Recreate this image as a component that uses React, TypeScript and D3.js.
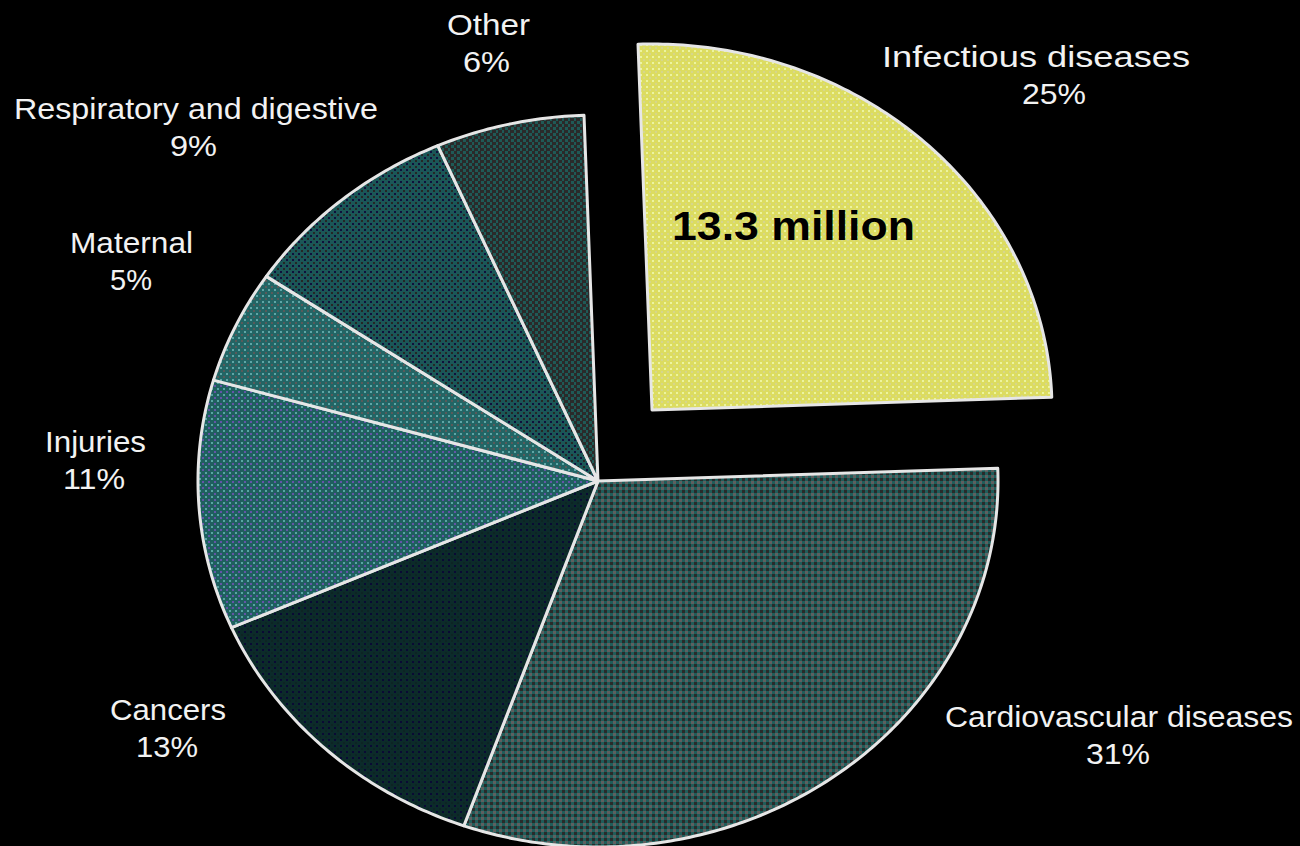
import React from "react";
import * as d3 from "d3";

const categories = [
  "Infectious diseases",
  "Cardiovascular diseases",
  "Cancers",
  "Injuries",
  "Maternal",
  "Respiratory and digestive",
  "Other",
];
const values = [25, 31, 13, 11, 5, 9, 6];
const percentLabels = ["25%", "31%", "13%", "11%", "5%", "9%", "6%"];
const explodedLabel = "13.3 million";

const W = 1300;
const H = 846;

// layout (not data)
const CX = 598;
const CY = 481;
const RX = 400;
const RY = 366;
const EXPLODE = [54, -71];
const START = -0.035;

const labelLayout: { x: number; y: number; w: number; pw: number; px: number }[] = [
  { x: 882, y: 67, w: 308, px: 1022, pw: 64 },
  { x: 945, y: 727, w: 348, px: 1086, pw: 64 },
  { x: 110, y: 720, w: 116, px: 136, pw: 62 },
  { x: 45, y: 452, w: 101, px: 63, pw: 62 },
  { x: 70, y: 253, w: 123, px: 110, pw: 42 },
  { x: 14, y: 119, w: 364, px: 170, pw: 47 },
  { x: 447, y: 35, w: 83, px: 463, pw: 47 },
];

// pattern colours: base, spot1, spot2
const patternColors = [
  ["#dcdc60", "#ecf4a0", "#d6d68c"],
  ["#1f5d5a", "#5f5f5f", "#2a2a2a"],
  ["#0c2b2a", "#0a0a34", "#0e2424"],
  ["#1f5f5f", "#6454a8", "#58a4a4"],
  ["#236565", "#5ea6a6", "#5a5a5a"],
  ["#1b5757", "#10103c", "#262626"],
  ["#2a2a2a", "#1f5a56", "#2a2a2a"],
];

export default function App() {
  const pie = d3
    .pie<number>()
    .sort(null)
    .startAngle(START)
    .endAngle(2 * Math.PI + START);
  const arcs = pie(values);

  const slicePath = (a0: number, a1: number) => {
    const n = Math.max(8, Math.ceil((a1 - a0) * 80));
    const pts: [number, number][] = [[0, 0]];
    d3.range(n + 1).forEach((i) => {
      const a = a0 + ((a1 - a0) * i) / n;
      pts.push([RX * Math.sin(a), -RY * Math.cos(a)]);
    });
    return d3.line()(pts) + "Z";
  };

  return (
    <svg
      width={W}
      height={H}
      style={{ position: "absolute", left: 0, top: 0, display: "block", background: "#000" }}
    >
      <defs>
        {patternColors.map((c, i) => (
          <pattern
            key={i}
            id={`pat${i}`}
            width={6}
            height={6}
            patternUnits="userSpaceOnUse"
          >
            <rect width={6} height={6} fill={c[0]} />
            {i === 1 ? (
              <>
                <rect x={3} y={0} width={3} height={3} fill={c[1]} />
                <rect x={0} y={3} width={3} height={3} fill={c[2]} />
              </>
            ) : i === 6 ? (
              <>
                <rect x={3} y={0} width={3} height={3} fill={c[1]} />
                <rect x={0} y={3} width={2} height={3} fill={c[1]} />
              </>
            ) : (
              <>
                <rect x={0} y={0} width={2} height={2} fill={c[1]} />
                <rect x={3} y={3} width={2} height={2} fill={c[2]} />
              </>
            )}
          </pattern>
        ))}
      </defs>
      <rect width={W} height={H} fill="#000" />
      {arcs.map((a, i) => {
        const dx = i === 0 ? EXPLODE[0] : 0;
        const dy = i === 0 ? EXPLODE[1] : 0;
        return (
          <path
            key={categories[i]}
            d={slicePath(a.startAngle, a.endAngle)}
            transform={`translate(${CX + dx},${CY + dy})`}
            fill={`url(#pat${i})`}
            stroke="#e6e6e6"
            strokeWidth={3}
            strokeLinejoin="round"
          />
        );
      })}
      <g fontFamily="'Liberation Sans', Arial, sans-serif" fill="#f2f2f2" fontSize={29}>
        {categories.map((c, i) => {
          const L = labelLayout[i];
          return (
            <g key={c}>
              <text x={L.x} y={L.y} textLength={L.w} lengthAdjust="spacingAndGlyphs">
                {c}
              </text>
              <text x={L.px} y={L.y + 37} textLength={L.pw} lengthAdjust="spacingAndGlyphs">
                {percentLabels[i]}
              </text>
            </g>
          );
        })}
      </g>
      <text
        x={672}
        y={240}
        fontFamily="'Liberation Sans', Arial, sans-serif"
        fontWeight="bold"
        fontSize={41}
        fill="#000"
        textLength={243}
        lengthAdjust="spacingAndGlyphs"
      >
        {explodedLabel}
      </text>
    </svg>
  );
}
